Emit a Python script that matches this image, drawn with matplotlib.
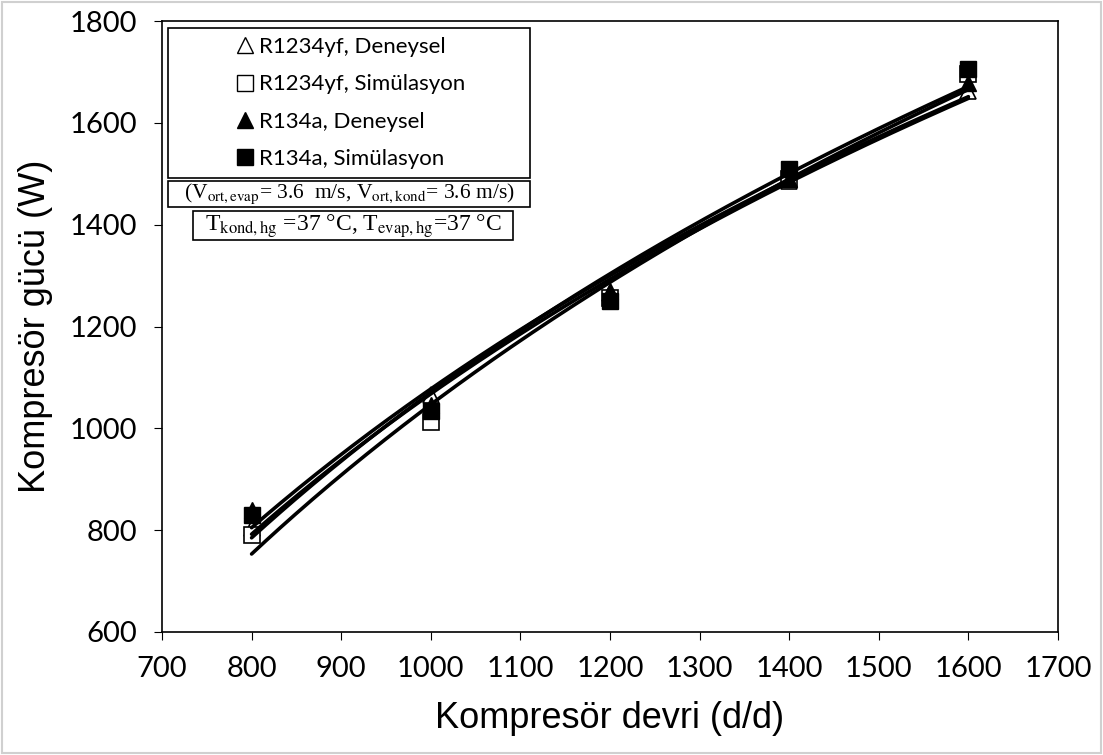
import matplotlib
matplotlib.use("Agg")
import matplotlib.pyplot as plt
from matplotlib.lines import Line2D
from matplotlib.patches import Rectangle
import numpy as np

# Kompresör devri (d/d)
devir = np.array([800, 1000, 1200, 1400, 1600])

# Kompresör gücü (W)
r1234yf_deney = np.array([805, 1065, 1265, 1486, 1663])
r1234yf_sim = np.array([790, 1012, 1255, 1490, 1695])
r134a_deney = np.array([839, 1045, 1270, 1490, 1678])
r134a_sim = np.array([829, 1035, 1251, 1510, 1706])

etiketler = ["R1234yf, Deneysel", "R1234yf, Simülasyon",
             "R134a, Deneysel", "R134a, Simülasyon"]

plt.rcParams["mathtext.fontset"] = "stix"

fig = plt.figure(figsize=(11.03, 7.55), dpi=100)
ax = fig.add_axes([162 / 1103, 1 - 632 / 755, 896 / 1103, 611 / 755])

# Seri işaretleri
ax.plot(devir, r1234yf_deney, ls="none", marker="^", ms=12, mfc="white",
        mec="black", mew=1.2, zorder=3)
ax.plot(devir, r1234yf_sim, ls="none", marker="s", ms=12, mfc="white",
        mec="black", mew=1.2, zorder=3)
ax.plot(devir, r134a_deney, ls="none", marker="^", ms=12, mfc="black",
        mec="black", zorder=3)
ax.plot(devir, r134a_sim, ls="none", marker="s", ms=12, mfc="black",
        mec="black", zorder=3)

# Logaritmik eğilim çizgileri: y = a*ln(x) + b
xx = np.linspace(800, 1600, 200)
for seri in [r1234yf_deney, r1234yf_sim, r134a_deney, r134a_sim]:
    a, b = np.polyfit(np.log(devir), seri, 1)
    ax.plot(xx, a * np.log(xx) + b, color="black", lw=2.6, zorder=4,
            solid_capstyle="round")

ax.set_xlim(700, 1700)
ax.set_ylim(600, 1800)
ax.set_xticks(np.arange(700, 1701, 100))
ax.set_yticks(np.arange(600, 1801, 200))
ax.tick_params(direction="out", length=6, labelsize=21)
ax.tick_params(axis="x", pad=11)
ax.tick_params(axis="y", pad=12)
for t in ax.get_xticklabels() + ax.get_yticklabels():
    t.set_fontfamily("Lato")
for s in ax.spines.values():
    s.set_linewidth(1.2)

ax.set_xlabel("Kompresör devri (d/d)", fontsize=26, family="Liberation Sans",
              labelpad=14)
ax.set_ylabel("Kompresör gücü (W)", fontsize=26, family="Liberation Sans",
              labelpad=12)

# Lejant kutusu
def kutu(x0, x1, y0, y1):
    # piksel konumundan eksen kesrine
    ax.add_patch(Rectangle(((x0 - 162) / 896, (632 - y1) / 611),
                           (x1 - x0) / 896, (y1 - y0) / 611,
                           transform=ax.transAxes, fc="white", ec="black",
                           lw=1.2, zorder=5))

kutu(168, 530, 28, 178)
kutu(168, 530, 181, 207)
kutu(193, 513, 211, 240)

tutucular = [
    Line2D([], [], ls="none", marker="^", ms=12, mfc="white", mec="black"),
    Line2D([], [], ls="none", marker="s", ms=12, mfc="white", mec="black"),
    Line2D([], [], ls="none", marker="^", ms=12, mfc="black", mec="black"),
    Line2D([], [], ls="none", marker="s", ms=12, mfc="black", mec="black"),
]
leg = ax.legend(tutucular, etiketler, loc="center",
                bbox_to_anchor=((352 - 162) / 896, (632 - 103) / 611),
                frameon=False, prop={"family": "Lato", "size": 16},
                handlelength=0.6, handletextpad=0.35, labelspacing=0.78)
leg.set_zorder(6)

ax.text((349 - 162) / 896, (632 - 194) / 611,
        r"(V$_{\mathrm{ort,evap}}$= 3.6  m/s, V$_{\mathrm{ort,kond}}$= 3.6 m/s)",
        transform=ax.transAxes, ha="center", va="center", fontsize=15.5,
        family="Liberation Serif", zorder=6)
ax.text((353 - 162) / 896, (632 - 226) / 611,
        r"T$_{\mathrm{kond,hg}}$ =37 °C, T$_{\mathrm{evap,hg}}$=37 °C",
        transform=ax.transAxes, ha="center", va="center", fontsize=17,
        family="Liberation Serif", zorder=6)

# Dış çerçeve
fig.patches.append(Rectangle((0.002, 0.002), 0.996, 0.996,
                             transform=fig.transFigure, fill=False,
                             ec="#d0d0d0", lw=1.5))

fig.savefig("out.png", dpi=100)
